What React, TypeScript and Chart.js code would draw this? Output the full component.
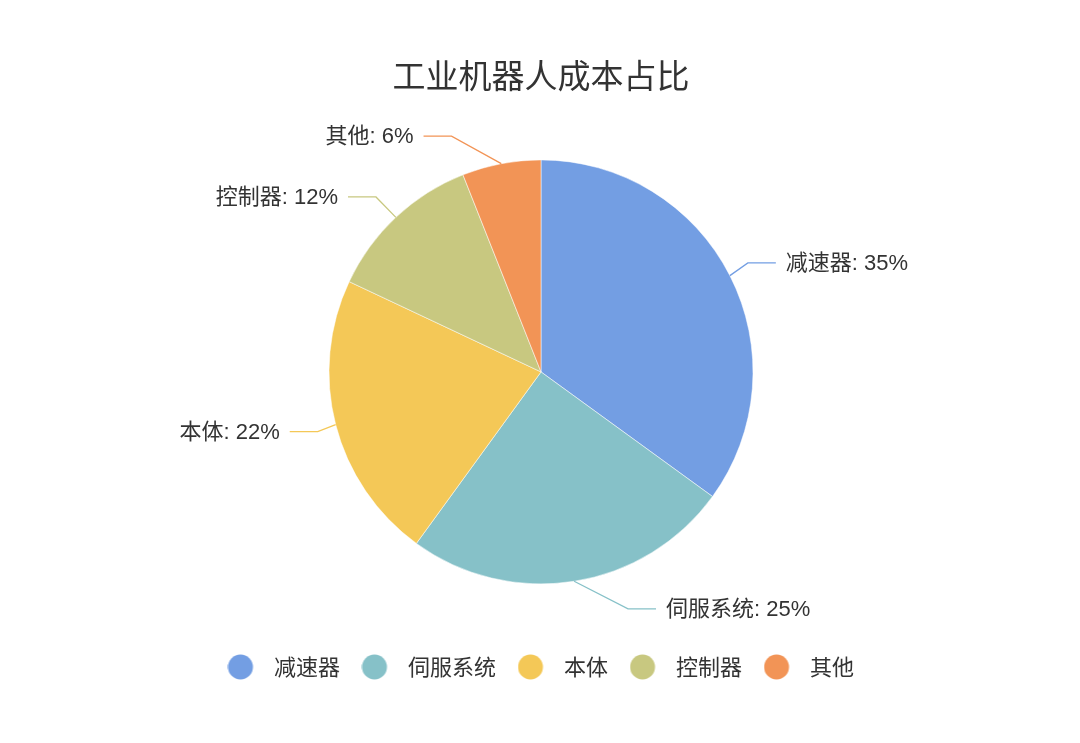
import React, { useEffect, useRef } from "react";
import { Chart, registerables, Plugin } from "chart.js";

Chart.register(...registerables);

// Data
const categories = ["减速器", "伺服系统", "本体", "控制器", "其他"];
const shares = [35, 25, 22, 12, 6];
const colors = ["#739EE3", "#86C1C8", "#F4C857", "#C8C880", "#F29456"];
const chartTitle = "工业机器人成本占比";

const FONT = '"Noto Sans CJK SC", "Noto Sans", sans-serif';
const LABEL_FONT = '"Liberation Sans", "Noto Sans CJK SC", sans-serif';

// round legend marker, drawn left-aligned inside a wider image
const makeDot = (color: string) => {
  const c = document.createElement("canvas");
  c.width = 36;
  c.height = 26;
  const ctx = c.getContext("2d")!;
  ctx.fillStyle = color;
  ctx.beginPath();
  ctx.arc(13, 13, 12.5, 0, Math.PI * 2);
  ctx.fill();
  return c;
};

// outside labels with a bent leader line, echarts style:
// label row sits at r + len, text is pushed out to a circle of r + len + len2
const LEN = 28;
const LEN2 = 28;
const GAP = 10;

const sliceLabels: Plugin<"pie"> = {
  id: "sliceLabels",
  afterDatasetsDraw(chart) {
    const { ctx } = chart;
    const meta = chart.getDatasetMeta(0);
    ctx.save();
    ctx.font = `22px ${LABEL_FONT}`;
    ctx.textBaseline = "middle";
    meta.data.forEach((arc, i) => {
      const { x, y, startAngle, endAngle, outerRadius } = (arc as any).getProps(
        ["x", "y", "startAngle", "endAngle", "outerRadius"],
        true
      );
      const mid = (startAngle + endAngle) / 2;
      const cos = Math.cos(mid);
      const sin = Math.sin(mid);
      const dir = cos >= 0 ? 1 : -1;
      const x0 = x + cos * outerRadius;
      const y0 = y + sin * outerRadius;
      const ly = y + sin * (outerRadius + LEN);
      const far = outerRadius + LEN + LEN2;
      const dy = ly - y;
      const tx = x + dir * Math.sqrt(Math.max(far * far - dy * dy, 0));
      const lineEnd = tx - dir * GAP;
      const turn = lineEnd - dir * LEN2;

      ctx.strokeStyle = colors[i];
      ctx.lineWidth = 1.3;
      ctx.beginPath();
      ctx.moveTo(x0, y0);
      ctx.lineTo(turn, ly);
      ctx.lineTo(lineEnd, ly);
      ctx.stroke();

      ctx.fillStyle = "#333";
      ctx.textAlign = dir > 0 ? "left" : "right";
      ctx.fillText(`${categories[i]}: ${shares[i]}%`, tx, ly + 1);
    });
    ctx.restore();
  },
};

const App: React.FC = () => {
  const chartRef = useRef<HTMLCanvasElement>(null);
  const chartInstance = useRef<Chart | null>(null);

  useEffect(() => {
    document.body.style.margin = "0";
    if (!chartRef.current) return;
    if (chartInstance.current) {
      chartInstance.current.destroy();
    }
    const dots = colors.map(makeDot);

    chartInstance.current = new Chart(chartRef.current, {
      type: "pie",
      data: {
        labels: categories,
        datasets: [
          {
            data: shares,
            backgroundColor: colors,
            borderColor: "#ffffff",
            borderWidth: 0.5,
            radius: 212,
          },
        ],
      },
      options: {
        responsive: false,
        animation: false,
        layout: {
          padding: { left: 2, bottom: 55 },
        },
        plugins: {
          title: {
            display: true,
            text: chartTitle,
            color: "#333",
            font: { size: 33, family: FONT, weight: "normal" },
            padding: { top: 56, bottom: 14.2 },
          },
          legend: {
            position: "bottom",
            labels: {
              usePointStyle: true,
              pointStyleWidth: 35,
              boxHeight: 22,
              padding: 22,
              color: "#333",
              font: { size: 22, family: FONT },
              generateLabels: (chart) =>
                categories.map((text, i) => ({
                  text,
                  fillStyle: colors[i],
                  strokeStyle: colors[i],
                  lineWidth: 0,
                  pointStyle: dots[i] as any,
                  fontColor: "#333",
                  hidden: !chart.getDataVisibility(i),
                  index: i,
                })),
            },
          },
          tooltip: { enabled: false },
        },
      },
      plugins: [sliceLabels],
    });

    return () => {
      if (chartInstance.current) {
        chartInstance.current.destroy();
        chartInstance.current = null;
      }
    };
  }, []);

  return (
    <div style={{ width: 1080, height: 743, background: "#fff" }}>
      <canvas ref={chartRef} width={1080} height={743} />
    </div>
  );
};

export default App;
